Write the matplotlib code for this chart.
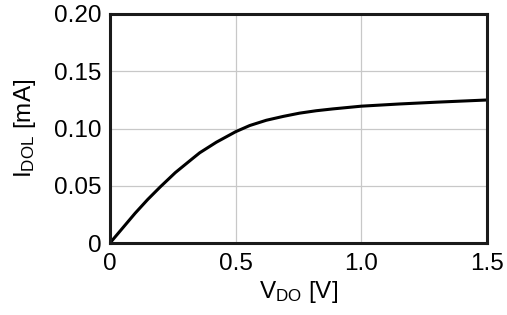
import numpy as np
import matplotlib
matplotlib.use("Agg")
import matplotlib.pyplot as plt

plt.rcParams['font.family'] = ['Liberation Sans', 'DejaVu Sans']
plt.rcParams['mathtext.fontset'] = 'custom'
plt.rcParams['mathtext.rm'] = 'Liberation Sans'

# curve
v_do = [0, 0.05, 0.1, 0.15, 0.2, 0.26, 0.327, 0.357, 0.423, 0.5, 0.556, 0.622,
        0.69, 0.754, 0.82, 0.886, 1.0, 1.15, 1.3, 1.5]
i_dol = [0, 0.013, 0.026, 0.038, 0.049, 0.0615, 0.0735, 0.0788, 0.0880, 0.0972,
         0.1026, 0.1072, 0.1106, 0.1134, 0.1155, 0.1171, 0.1195, 0.1214, 0.1230,
         0.1249]

x_ticks = [0, 0.5, 1.0, 1.5]
x_labels = ['0', '0.5', '1.0', '1.5']
y_ticks = [0, 0.05, 0.10, 0.15, 0.20]
y_labels = ['0', '0.05', '0.10', '0.15', '0.20']

fig = plt.figure(figsize=(5.07, 3.15), dpi=100)
ax = fig.add_axes([110/507, 1 - 243/315, 377/507, 229/315])

ax.plot(v_do, i_dol, color='black', lw=2.2, solid_capstyle='round',
        solid_joinstyle='round')

ax.set_xlim(0, 1.5)
ax.set_ylim(0, 0.2)
ax.set_xticks(x_ticks)
ax.set_xticklabels(x_labels)
ax.set_yticks(y_ticks)
ax.set_yticklabels(y_labels)
ax.tick_params(length=0, labelsize=17.5)
ax.tick_params(axis='x', pad=7)
ax.tick_params(axis='y', pad=6)
ax.grid(True, color='#c8c8c8', lw=0.9)
ax.set_axisbelow(True)
for s in ax.spines.values():
    s.set_linewidth(2.2)
    s.set_color('#1a1a1a')

ax.set_xlabel(r'$\mathregular{V_{DO}}$ [V]', fontsize=17.5, labelpad=3)
ax.set_ylabel(r'$\mathregular{I_{DOL}}$ [mA]', fontsize=17.5, labelpad=12)

fig.savefig('out.png', dpi=100)
